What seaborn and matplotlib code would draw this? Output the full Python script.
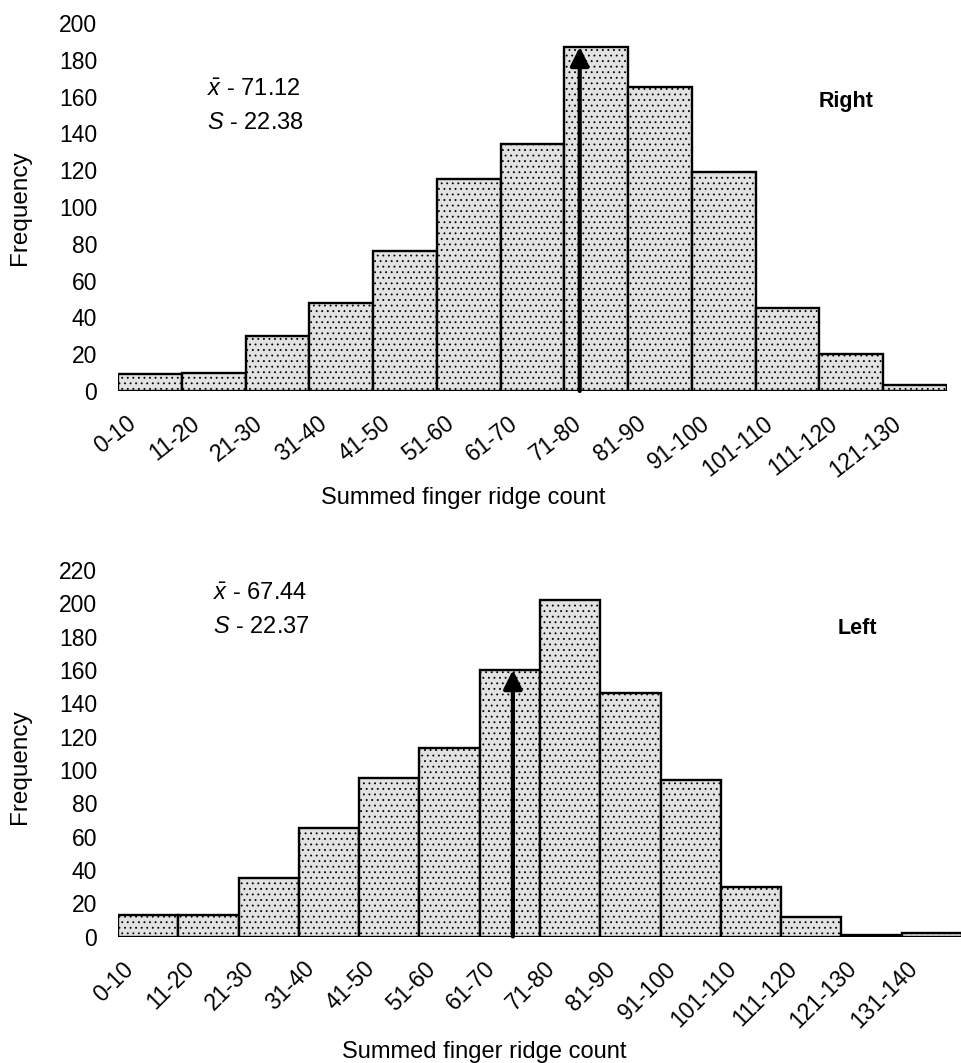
import matplotlib
matplotlib.use("Agg")
import matplotlib.pyplot as plt
import matplotlib.transforms as mtransforms
import seaborn as sns

# ---- data ----
right_bins = ['0-10', '11-20', '21-30', '31-40', '41-50', '51-60', '61-70',
              '71-80', '81-90', '91-100', '101-110', '111-120', '121-130']
right_freq = [9, 10, 30, 48, 76, 115, 134, 187, 165, 119, 45, 20, 3]

left_bins = ['0-10', '11-20', '21-30', '31-40', '41-50', '51-60', '61-70',
             '71-80', '81-90', '91-100', '101-110', '111-120', '121-130', '131-140']
left_freq = [13, 13, 35, 65, 95, 113, 160, 202, 146, 94, 30, 12, 1, 2]

right_stats = [r'$\bar{x}$ - 71.12', r'$S$ - 22.38']
left_stats = [r'$\bar{x}$ - 67.44', r'$S$ - 22.37']

# arrow position (category axis units) marking the mean
right_arrow_x = 6.74
left_arrow_x = 6.05

fontsize = 16.5

sns.set_style("white")
plt.rcParams['font.family'] = ['Liberation Sans', 'DejaVu Sans']
plt.rcParams['mathtext.fontset'] = 'custom'
plt.rcParams['mathtext.rm'] = 'Liberation Sans'
plt.rcParams['mathtext.it'] = 'Liberation Sans:italic'
plt.rcParams['hatch.linewidth'] = 0.6
plt.rcParams['text.color'] = 'black'
plt.rcParams['axes.labelcolor'] = 'black'
plt.rcParams['xtick.color'] = 'black'
plt.rcParams['ytick.color'] = 'black'

fig = plt.figure(figsize=(9.62, 10.63), dpi=100)
ax_top = fig.add_axes([0.1227, 0.6322, 0.8617, 0.3462])
ax_bot = fig.add_axes([0.1227, 0.1190, 0.8773, 0.3448])


def draw_panel(ax, bins, freq, stats, arrow_x, side, ymax, stat_pos, side_pos,
               rot, xlab_pos, ylab_pos):
    sns.barplot(x=bins, y=freq, width=1, color='#e2e2e2', saturation=1,
                edgecolor='black', linewidth=1.7, ax=ax)
    for bar in ax.patches:
        bar.set_hatch('...')

    ax.set_xlim(-0.5, len(bins) - 0.5)
    ax.set_ylim(0, ymax)
    ax.set_yticks(range(0, ymax + 1, 20))
    sns.despine(ax=ax, left=True, bottom=True)
    ax.tick_params(axis='both', length=0, labelsize=fontsize)
    ax.tick_params(axis='y', pad=15)
    ax.tick_params(axis='x', pad=15, rotation=rot)

    shift = mtransforms.ScaledTranslation(-10 / 100, 0, fig.dpi_scale_trans)
    for lab in ax.get_xticklabels():
        lab.set_ha('right')
        lab.set_transform(lab.get_transform() + shift)

    ax.set_xlabel('Summed finger ridge count', fontsize=fontsize + 0.5)
    ax.xaxis.set_label_coords(*xlab_pos)
    ax.set_ylabel('Frequency', fontsize=fontsize + 1)
    ax.yaxis.set_label_coords(*ylab_pos)

    # mean arrow
    top = freq[int(round(arrow_x))]
    ax.annotate('', xy=(arrow_x, top), xytext=(arrow_x, 0),
                arrowprops=dict(arrowstyle='-|>', color='black', lw=3,
                                mutation_scale=28, shrinkA=0, shrinkB=0))

    ax.text(stat_pos[0], stat_pos[1], stats[0], ha='left', va='center',
            fontsize=fontsize + 0.5)
    ax.text(stat_pos[0], stat_pos[2], stats[1], ha='left', va='center',
            fontsize=fontsize + 0.5)
    ax.text(side_pos[0], side_pos[1], side, ha='center', va='center',
            fontsize=fontsize - 1, weight='bold')


draw_panel(ax_top, right_bins, right_freq, right_stats, right_arrow_x, 'Right', 200,
           (0.9, 163.5, 145.5), (10.91, 157.5), 38, (0.416, -0.26), (-0.105, 0.497))
draw_panel(ax_bot, left_bins, left_freq, left_stats, left_arrow_x, 'Left', 220,
           (1.07, 205.5, 186), (11.77, 185), 45, (0.434, -0.285), (-0.103, 0.462))

fig.savefig('out.png', dpi=100)
